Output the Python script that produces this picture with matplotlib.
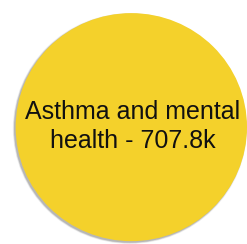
import matplotlib.pyplot as plt
from matplotlib.patches import Circle
import numpy as np

# bubble data
labels = ["Asthma and mental\nhealth"]
values = [707.8]  # thousands
colors = ["#F4D12B"]

plt.rcParams['font.family'] = ['Liberation Sans', 'DejaVu Sans']

fig = plt.figure(figsize=(2.47, 2.44), dpi=100)
ax = fig.add_axes([0, 0, 1, 1])

# bubble radius from area (largest bubble = 1)
radii = np.sqrt(np.array(values) / max(values))

for lab, v, r, c in zip(labels, values, radii, colors):
    # soft shadow down-left
    for k, a in enumerate([0.08, 0.12, 0.2]):
        ax.add_patch(Circle((-0.012, -0.012), r + 0.012 - k * 0.005,
                            color="#333333", alpha=a, lw=0))
    ax.add_patch(Circle((0, 0), r, color=c, lw=0))
    ax.text(0.015, 0.005, f"{lab} - {v}k", ha="center", va="center",
            fontsize=18, color="#111111", linespacing=1.3)

# place bubble like the original view
ax.set_xlim(-1.0 - 0.135, 1.0 + 0.0)
ax.set_ylim(-1.0 - 0.025, 1.0 + 0.115)
ax.set_aspect("auto")
ax.axis("off")

fig.savefig("out.png", dpi=100)
